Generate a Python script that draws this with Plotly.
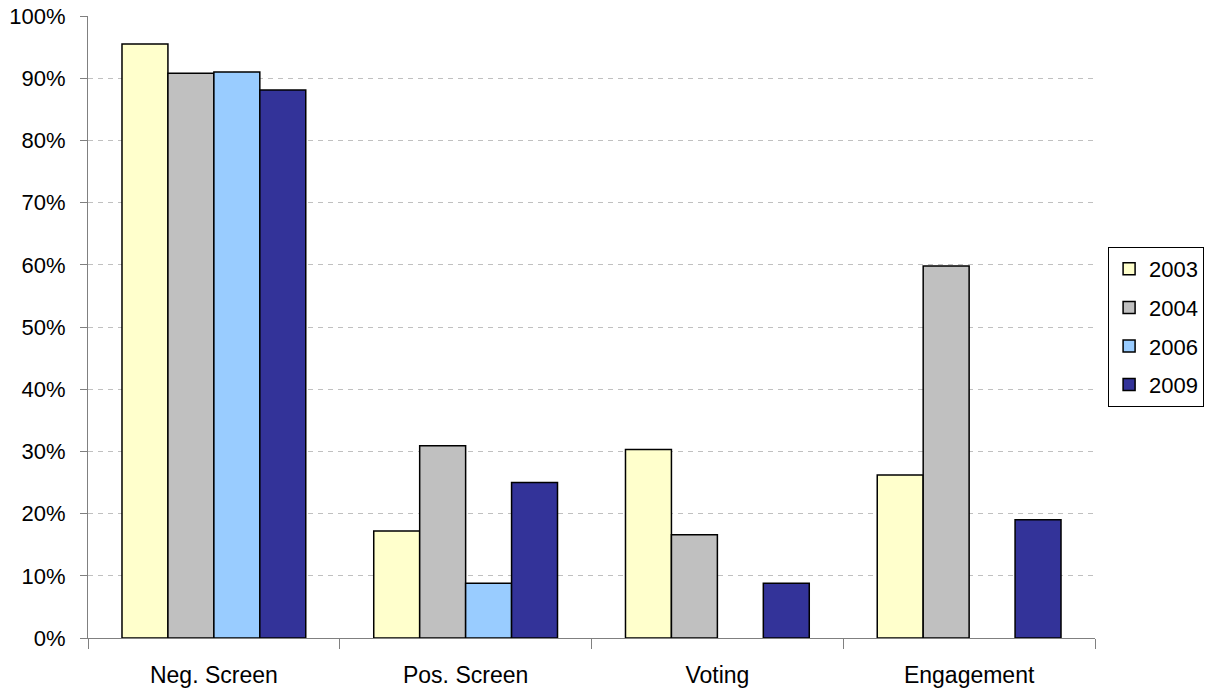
import plotly.graph_objects as go

categories = ["Neg. Screen", "Pos. Screen", "Voting", "Engagement"]
years = ["2003", "2004", "2006", "2009"]
v2003 = [0.955, 0.172, 0.303, 0.262]
v2004 = [0.908, 0.309, 0.166, 0.598]
v2006 = [0.910, 0.088, None, None]
v2009 = [0.881, 0.250, 0.088, 0.190]
colors = ["#FFFFCC", "#C0C0C0", "#99CCFF", "#333399"]

series = [v2003, v2004, v2006, v2009]

fig = go.Figure()
for name, vals, col in zip(years, series, colors):
    fig.add_trace(go.Bar(
        x=categories, y=vals, name=name, legendgroup=name,
        marker=dict(color=col, line=dict(color="#000000", width=1.5)),
    ))

fig.update_layout(
    barmode="group",
    bargap=0.27,
    bargroupgap=0,
    width=1206, height=688,
    margin=dict(l=88, r=111, t=16, b=50, autoexpand=False),
    paper_bgcolor="white",
    plot_bgcolor="white",
    font=dict(family="Liberation Sans, Arial, sans-serif", size=22, color="black"),
    legend=dict(
        x=1.013, xanchor="left", y=0.5, yanchor="middle",
        bordercolor="#000000", borderwidth=1,
        font=dict(size=22),
        traceorder="grouped",
        tracegroupgap=7,
        itemwidth=30,
    ),
    showlegend=True,
)
fig.update_yaxes(
    range=[0, 1.0], tickformat=".0%", dtick=0.1,
    showgrid=True, gridcolor="#C0C0C0", griddash="5px,5px", gridwidth=1,
    showline=True, linecolor="#808080", linewidth=1,
    ticks="outside", ticklen=7, tickcolor="#808080",
    ticklabelstandoff=10,
    tickfont=dict(size=22),
    zeroline=False,
)
fig.update_xaxes(
    showline=True, linecolor="#808080", linewidth=1,
    ticks="outside", ticklen=10, tickcolor="#808080",
    tickson="boundaries",
    ticklabelstandoff=16,
    tickfont=dict(size=23),
    showgrid=False,
)
fig.write_html("out.html")
